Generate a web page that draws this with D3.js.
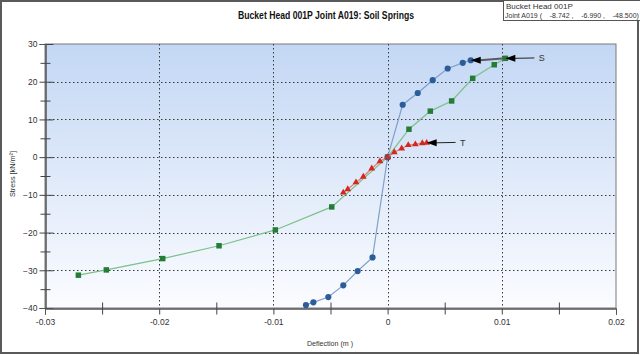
<!DOCTYPE html>
<html><head><meta charset="utf-8">
<script src="https://cdn.jsdelivr.net/npm/d3@7"></script>
<style>
html,body{margin:0;padding:0;background:#fff;}
svg{display:block;font-family:"Liberation Sans",Arial,sans-serif;}
</style></head>
<body><svg id="c" width="640" height="355"></svg>
<script>
// ---- data ----
const title = "Bucket Head 001P Joint A019: Soil Springs";
const legendLines = ["Bucket Head 001P", "Joint A019 (    -8.742 ,    -6.990 ,    -48.500)"];
const xLabel = "Deflection (m )";
const yLabel = "Stress [kN/m²]";
const xTicks = [-0.03, -0.02, -0.01, 0, 0.01, 0.02];
const xTickLabels = ["-0.03", "-0.02", "-0.01", "0", "0.01", "0.02"];
const xMinor = [-0.025, -0.015, -0.005, 0.005, 0.015];
const yTicks = [30, 20, 10, 0, -10, -20, -30, -40];
const yMinor = [25, 15, 5, -5, -15, -25, -35];

// Blue series (circles)
const blueX = [-0.00715, -0.0065, -0.00519, -0.00388, -0.00262, -0.00132, 0, 0.00132, 0.00264, 0.00395, 0.00526, 0.00658, 0.00728];
const blueY = [-39.2, -38.5, -37.1, -34.0, -30.2, -26.6, 0, 13.9, 17.0, 20.4, 23.5, 25.0, 25.7];
// Green series (squares)
const greenX = [-0.02708, -0.02463, -0.01969, -0.01476, -0.00983, -0.00489, 0, 0.00187, 0.00374, 0.00561, 0.00745, 0.00934, 0.01031];
const greenY = [-31.3, -29.9, -26.9, -23.5, -19.3, -13.2, 0, 7.4, 12.2, 14.9, 20.9, 24.5, 26.2];
// Red series (triangles)
const redX = [-0.00388, -0.00349, -0.00277, -0.00213, -0.00139, -0.00067, 0, 0.00059, 0.00123, 0.00181, 0.00243, 0.00304, 0.00342];
const redY = [-9.4, -8.5, -6.7, -5.2, -3.0, -1.1, 0, 1.3, 2.3, 3.2, 3.4, 3.7, 3.8];

// annotation labels (data coords)
const annLabels = ["S", "T"];
const annLabelX = [0.01315, 0.00625];
const annLabelY = [26.3, 3.9];

// ---- chart ----
const svg = d3.select("#c");
const W = 640, H = 355;
const x = d3.scaleLinear().domain([-0.03, 0.02]).range([45, 616]);
const y = d3.scaleLinear().domain([-40, 30]).range([308, 44]);

const defs = svg.append("defs");
const grad = defs.append("linearGradient").attr("id", "bg").attr("x1", 0).attr("y1", 0).attr("x2", 0).attr("y2", 1);
grad.append("stop").attr("offset", "0%").attr("stop-color", "#c3d7f4");
grad.append("stop").attr("offset", "100%").attr("stop-color", "#fbfcff");

// outer frame
svg.append("rect").attr("x", 1).attr("y", 1).attr("width", W - 3).attr("height", H - 3)
  .attr("fill", "#fff").attr("stroke", "#5a5a5a").attr("stroke-width", 2);

// plot background
const [x0, x1] = x.range(), [y1, y0] = [y(30), y(-40)];
svg.append("rect").attr("x", x0).attr("y", y1).attr("width", x1 - x0).attr("height", y0 - y1)
  .attr("fill", "url(#bg)").attr("stroke", "#7a7a7a").attr("stroke-width", 1);

// grid
const g = svg.append("g").attr("stroke", "#3a3a3a").attr("stroke-dasharray", "1.5,2.5").attr("stroke-width", 1);
xTicks.filter(v => v > -0.03 && v < 0.02).forEach(v => {
  g.append("line").attr("x1", Math.round(x(v)) + 0.5).attr("x2", Math.round(x(v)) + 0.5).attr("y1", y1).attr("y2", y0);
});
yTicks.filter(v => v > -40 && v < 30).forEach(v => {
  g.append("line").attr("y1", Math.round(y(v)) + 0.5).attr("y2", Math.round(y(v)) + 0.5).attr("x1", x0).attr("x2", x1);
});

// axes
const yAxis = svg.append("g").attr("transform", `translate(${x0 + 0.5},0)`)
  .call(d3.axisLeft(y).tickValues(yTicks).tickSize(6).tickPadding(2));
const yMinorAx = svg.append("g").attr("transform", `translate(${x0 + 0.5},0)`)
  .call(d3.axisLeft(y).tickValues(yMinor).tickSize(5).tickFormat(""));
yMinorAx.selectAll(".tick line").attr("x2", 5).attr("x1", -5);
yAxis.selectAll(".tick line").attr("x1", -6).attr("x2", 8);
const xAxis = svg.append("g").attr("transform", `translate(0,${y0 + 0.5})`)
  .call(d3.axisBottom(x).tickValues(xTicks).tickFormat((d, i) => xTickLabels[i]).tickSize(6).tickPadding(4));
const xMinorAx = svg.append("g").attr("transform", `translate(0,${y0 + 0.5})`)
  .call(d3.axisBottom(x).tickValues(xMinor).tickSize(6).tickFormat(""));
xMinorAx.selectAll(".tick line").attr("y1", -6).attr("y2", 6);
[yAxis, yMinorAx, xAxis, xMinorAx].forEach(a => {
  a.select(".domain").attr("stroke", "#555");
  a.selectAll(".tick line").attr("stroke", "#444");
  a.selectAll("text").attr("font-size", 8.5).attr("fill", "#333").attr("font-family", "Liberation Sans, Arial, sans-serif");
});

// series
const line = d3.line().x(d => x(d[0])).y(d => y(d[1]));
const series = [
  {xs: greenX, ys: greenY, lc: "#7cc08a", mc: "#237d35", shape: d3.symbolSquare, size: 30},
  {xs: blueX, ys: blueY, lc: "#82a0c8", mc: "#2c5d9b", shape: d3.symbolCircle, size: 30},
  {xs: redX, ys: redY, lc: "#e27b72", mc: "#d3281d", shape: d3.symbolTriangle, size: 20}
];
series.forEach(s => {
  const pts = s.xs.map((v, i) => [v, s.ys[i]]);
  svg.append("path").attr("d", line(pts)).attr("fill", "none").attr("stroke", s.lc).attr("stroke-width", 1.2);
  svg.append("g").selectAll("path").data(pts).join("path")
    .attr("transform", d => `translate(${x(d[0])},${y(d[1])})`)
    .attr("d", d3.symbol().type(s.shape).size(s.size))
    .attr("fill", s.mc);
});

// annotations
function arrow(fx, fy, tx, ty, color, w) {
  svg.append("line").attr("x1", x(fx)).attr("y1", y(fy)).attr("x2", x(tx) + 9).attr("y2", y(ty))
    .attr("stroke", color).attr("stroke-width", w);
  svg.append("path").attr("transform", `translate(${x(tx)},${y(ty)})`)
    .attr("d", "M0,0 L10,-3.5 L10,3.5 Z").attr("fill", "#000");
}
const gN = greenX.length - 1, bN = blueX.length - 1, rN = redX.length - 1;
arrow(annLabelX[0] - 0.0003, annLabelY[0], greenX[gN], greenY[gN], "#222", 1);
arrow(greenX[gN], greenY[gN], blueX[bN], blueY[bN], "#5a5a5a", 2);
arrow(annLabelX[1] - 0.0003, annLabelY[1], redX[rN], redY[rN], "#222", 1);
annLabels.forEach((t, i) => {
  svg.append("text").attr("x", x(annLabelX[i]) + 1).attr("y", y(annLabelY[i]) + 3.5)
    .attr("font-size", 9).attr("fill", "#333").text(t);
});

// title
svg.append("text").attr("x", 326).attr("y", 19).attr("text-anchor", "middle")
  .attr("font-size", 11).attr("font-weight", "bold").attr("fill", "#111")
  .attr("textLength", 176).attr("lengthAdjust", "spacingAndGlyphs").text(title);

// axis labels
svg.append("text").attr("x", 330).attr("y", 346).attr("text-anchor", "middle")
  .attr("font-size", 8).attr("fill", "#333").attr("textLength", 46).attr("lengthAdjust", "spacingAndGlyphs").text(xLabel);
svg.append("text").attr("transform", "translate(15,174) rotate(-90)").attr("text-anchor", "middle")
  .attr("font-size", 8).attr("fill", "#333").attr("textLength", 46).attr("lengthAdjust", "spacingAndGlyphs").text(yLabel);

// legend box
svg.append("rect").attr("x", 503.5).attr("y", 0.5).attr("width", 140).attr("height", 20)
  .attr("fill", "#fff").attr("stroke", "#555").attr("stroke-width", 1);
svg.append("text").attr("x", 506).attr("y", 9).attr("font-size", 8).attr("fill", "#333").text(legendLines[0]);
svg.append("text").attr("x", 505).attr("y", 18).attr("font-size", 7).attr("fill", "#333")
  .attr("xml:space", "preserve").style("white-space", "pre").text(legendLines[1]);
</script>
</body></html>
